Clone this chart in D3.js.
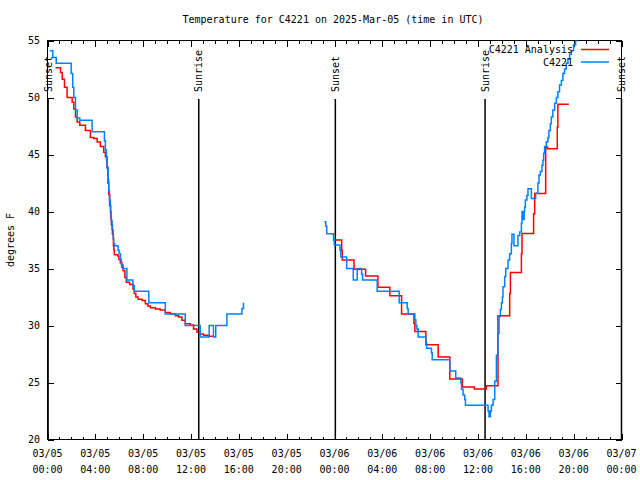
<!DOCTYPE html>
<html><head><meta charset="utf-8">
<script src="https://cdn.jsdelivr.net/npm/d3@7"></script>
<style>
body{margin:0;background:#fff}
svg{display:block}
text{font-family:"DejaVu Sans Mono",monospace;font-size:10px;fill:#000}
</style>
</head><body>
<svg id="c" width="640" height="480"></svg>
<script>
// ---------- data (hours since 2025-03-05 00:00 UTC) ----------
const chartTitle = "Temperature for C4221 on 2025-Mar-05 (time in UTC)";
const yAxisLabel = "degrees F";
const seriesNames = ["C4221 Analysis", "C4221"];
const seriesColors = ["#ff0000", "#0080ff"];
const yTickValues = [20, 25, 30, 35, 40, 45, 50, 55];
const xTickDates = ["03/05","03/05","03/05","03/05","03/05","03/05","03/06","03/06","03/06","03/06","03/06","03/06","03/07"];
const xTickTimes = ["00:00","04:00","08:00","12:00","16:00","20:00","00:00","04:00","08:00","12:00","16:00","20:00","00:00"];
const sunLabels = ["Sunset", "Sunrise", "Sunset", "Sunrise", "Sunset"];
const sunHours = [0.05, 12.65, 24.07, 36.59, 48.0];

// Analysis (red), null marks a gap
const anaHours = [0.67,1.09,1.23,1.42,1.64,2.06,2.20,2.34,2.48,2.70,3.17,3.59,3.87,4.15,4.42,4.70,4.84,4.98,5.05,5.12,
  5.20,5.28,5.34,5.43,5.51,5.55,5.59,5.87,5.97,6.09,6.22,6.32,6.47,6.59,6.87,7.15,7.26,7.39,7.57,7.91,
  8.18,8.39,8.60,9.02,9.43,9.85,10.27,10.69,10.96,11.24,11.52,11.94,12.21,12.50,12.77,13.05,13.47,13.83,
  18.0,
  24.04,24.60,24.65,25.63,26.60,27.63,28.63,29.61,30.64,30.72,31.64,32.67,33.64,34.70,35.70,36.70,37.67,38.65,38.71,
  39.63,39.68,40.65,40.74,41.66,41.71,41.82,42.63,42.68,43.60];
const anaTemps = [52.6,52.2,51.6,50.9,50.0,49.6,49.0,48.3,47.85,47.56,47.1,46.5,46.4,46.1,45.7,45.2,44.8,43.9,42.5,41.5,
  40.5,39.5,38.8,38.0,37.0,36.6,36.2,36.1,35.8,35.5,35.1,34.8,34.2,33.8,33.6,33.2,32.8,32.5,32.3,32.2,
  31.9,31.7,31.55,31.45,31.35,31.15,31.0,30.85,30.75,30.45,30.15,30.05,29.7,29.4,29.25,29.15,29.05,29.0,
  null,
  37.5,36.6,35.75,34.93,34.35,33.36,32.62,31.0,30.2,29.48,28.31,27.24,25.31,24.61,24.44,24.72,30.85,32.8,34.64,
  36.3,38.08,39.8,41.58,45.6,45.66,45.5,47.4,49.4,49.4];

// Observations (blue), null marks a gap
const obsHours = [0.19,0.44,0.73,1.98,2.11,2.20,2.34,2.48,2.70,3.73,4.76,4.84,4.93,4.98,5.07,5.12,5.18,5.26,5.32,5.40,
  5.49,5.54,5.62,5.90,5.99,6.10,6.18,6.32,6.64,7.14,7.26,8.47,9.85,11.52,12.77,13.52,13.88,14.07,15.00,16.26,16.39,
  20.0,
  23.15,23.27,23.35,23.92,23.98,24.46,24.52,25.02,25.57,25.90,26.27,26.35,27.57,29.41,30.08,30.16,30.72,30.80,30.89,31.00,
  31.64,31.70,32.11,32.17,33.64,34.14,34.56,34.62,34.75,34.89,34.95,36.84,36.92,37.04,37.12,37.26,37.40,37.54,37.67,37.76,
  37.87,37.96,38.04,38.09,38.23,38.32,38.51,38.65,38.79,38.84,39.01,39.34,39.49,39.63,39.68,39.76,39.86,39.90,39.96,40.09,
  40.18,40.46,40.82,41.01,41.10,41.21,41.35,41.43,41.49,41.57,41.71,41.85,41.93,42.05,42.13,42.26,42.41,42.55,42.68,42.82,
  42.97,43.10,43.24,43.38,43.52,43.66,43.80,43.99,44.16,44.33];
const obsTemps = [54.1,53.5,53.0,52.1,50.9,50.0,48.9,48.2,48.0,47.0,46.2,45.4,44.5,43.8,42.8,41.8,41.0,40.0,39.2,38.4,
  37.6,37.2,37.0,36.6,36.3,35.8,35.3,35.0,34.0,33.5,33.0,32.0,31.0,30.0,29.0,30.0,29.0,30.0,31.0,31.5,32.0,
  null,
  39.1,38.7,38.05,37.5,37.06,36.6,36.0,35.0,34.0,35.0,34.5,34.0,33.0,32.0,31.5,31.0,30.5,30.0,29.7,29.0,
  28.5,28.0,27.6,27.0,26.0,25.4,25.0,24.4,23.9,23.5,23.0,22.5,22.0,22.5,23.0,23.5,25.1,27.4,29.3,30.8,
  31.4,32.0,32.5,33.4,34.3,35.0,35.75,36.3,37.2,38.0,37.0,37.9,38.2,39.0,40.0,39.3,40.0,40.4,41.0,41.4,
  42.0,41.15,41.6,42.5,43.2,43.5,44.06,44.5,45.1,45.7,46.1,46.5,47.1,47.7,48.3,48.9,49.5,50.0,50.5,51.1,
  51.5,52.1,52.5,53.0,53.4,53.8,54.1,54.6,55.0,55.6];

// ---------- drawing ----------
const base = Date.UTC(2025, 2, 5, 0, 0);
const toDate = h => new Date(base + h * 3600000);
const L = 47.5, R = 621.5, T = 40.5, B = 439.5;
const x = d3.scaleUtc().domain([toDate(0), toDate(48)]).range([L, R]);
const y = d3.scaleLinear().domain([20, 55]).range([B, T]);

const svg = d3.select("#c");
svg.append("rect").attr("width", 640).attr("height", 480).attr("fill", "#fff");

svg.append("defs").append("clipPath").attr("id", "clip")
  .append("rect").attr("x", L).attr("y", T).attr("width", R - L).attr("height", B - T);

const majorT = d3.range(0, 49, 4).map(toDate);
const minorT = d3.range(0, 49, 1).map(toDate);

function styleAxis(g) {
  g.select(".domain").remove();
  g.selectAll("line").attr("stroke", "#000").attr("shape-rendering", "crispEdges");
  g.selectAll("text").remove();
}
svg.append("g").attr("transform", `translate(0,${B})`)
  .call(d3.axisBottom(x).tickValues(minorT).tickSize(-3).tickFormat("")).call(styleAxis);
svg.append("g").attr("transform", `translate(0,${B})`)
  .call(d3.axisBottom(x).tickValues(majorT).tickSize(-6).tickFormat("")).call(styleAxis);
svg.append("g").attr("transform", `translate(0,${T})`)
  .call(d3.axisTop(x).tickValues(minorT).tickSize(-3).tickFormat("")).call(styleAxis);
svg.append("g").attr("transform", `translate(0,${T})`)
  .call(d3.axisTop(x).tickValues(majorT).tickSize(-6).tickFormat("")).call(styleAxis);
svg.append("g").attr("transform", `translate(${L},0)`)
  .call(d3.axisLeft(y).tickValues(yTickValues).tickSize(-6).tickFormat("")).call(styleAxis);
svg.append("g").attr("transform", `translate(${R},0)`)
  .call(d3.axisRight(y).tickValues(yTickValues).tickSize(-6).tickFormat("")).call(styleAxis);

// tick labels
svg.append("g").selectAll("text").data(yTickValues).join("text")
  .attr("x", 40).attr("y", d => y(d)).attr("dy", "0.35em").attr("text-anchor", "end").text(d => d);
const xl = svg.append("g").selectAll("g").data(majorT).join("g")
  .attr("transform", d => `translate(${x(d)},0)`);
xl.append("text").attr("y", 456.5).attr("text-anchor", "middle").text((d, i) => xTickDates[i]);
xl.append("text").attr("y", 472.5).attr("text-anchor", "middle").text((d, i) => xTickTimes[i]);

// border
svg.append("rect").attr("x", L).attr("y", T).attr("width", R - L).attr("height", B - T)
  .attr("fill", "none").attr("stroke", "#000").attr("stroke-width", 1).attr("shape-rendering", "crispEdges");

// title & y label
svg.append("text").attr("x", 333).attr("y", 22.5).attr("text-anchor", "middle").text(chartTitle);
svg.append("text").attr("transform", "translate(14,240) rotate(-90)").attr("text-anchor", "middle").text(yAxisLabel);

// sun events
const sg = svg.append("g");
sunHours.forEach((h, i) => {
  const px = x(toDate(h));
  sg.append("line").attr("x1", px).attr("x2", px).attr("y1", 99).attr("y2", B)
    .attr("stroke", "#000").attr("stroke-width", 1.5);
  sg.append("text").attr("transform", `translate(${px},92) rotate(-90)`).attr("dy", "0.35em")
    .attr("text-anchor", "start").text(sunLabels[i]);
});

// series
const mk = (hs, vs) => hs.map((h, i) => ({ h, v: vs[i] }));
const line = d3.line().defined(d => d.v != null)
  .x(d => x(toDate(d.h))).y(d => y(d.v)).curve(d3.curveStepAfter);
const plot = svg.append("g").attr("clip-path", "url(#clip)");
[mk(anaHours, anaTemps), mk(obsHours, obsTemps)].forEach((data, i) => {
  plot.append("path").datum(data).attr("d", line).attr("fill", "none")
    .attr("stroke", seriesColors[i]).attr("stroke-width", 1.5);
});

// legend
const lg = svg.append("g");
seriesNames.forEach((name, i) => {
  const ly = 49.5 + i * 12.5;
  lg.append("text").attr("x", 573).attr("y", ly).attr("dy", "0.35em").attr("text-anchor", "end").text(name);
  lg.append("line").attr("x1", 581).attr("x2", 609).attr("y1", ly).attr("y2", ly)
    .attr("stroke", seriesColors[i]).attr("stroke-width", 1.5);
});
</script>
</body></html>
